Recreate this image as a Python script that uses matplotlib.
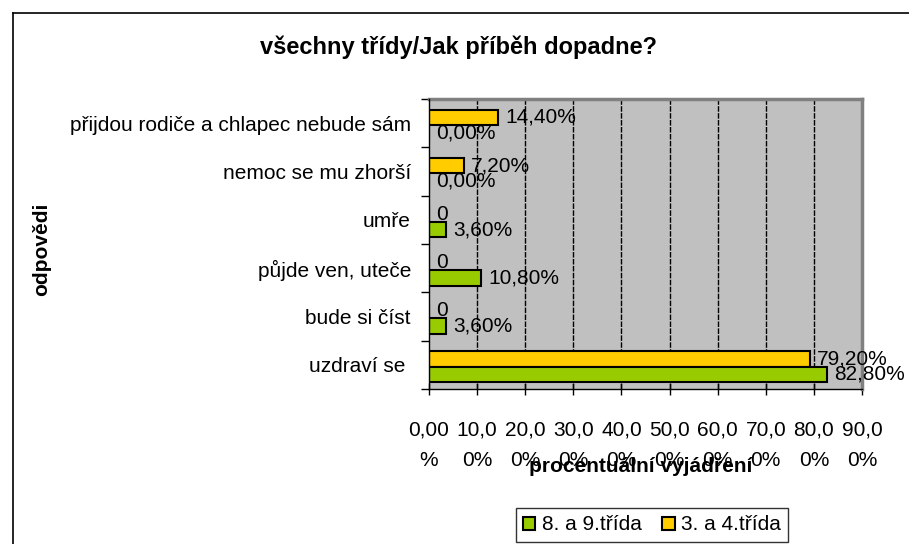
import matplotlib
matplotlib.use('Agg')
import matplotlib.pyplot as plt
from matplotlib.patches import Patch
from matplotlib.lines import Line2D

plt.rcParams['font.family'] = ['Liberation Sans', 'DejaVu Sans']

# data
categories = ['přijdou rodiče a chlapec nebude sám', 'nemoc se mu zhorší', 'umře',
              'půjde ven, uteče', 'bude si číst', 'uzdraví se ']
grade_89 = [0.0, 0.0, 3.6, 10.8, 3.6, 82.8]
grade_34 = [14.4, 7.2, 0.0, 0.0, 0.0, 79.2]
series_names = ['8. a 9.třída', '3. a 4.třída']
xticks = [0, 10, 20, 30, 40, 50, 60, 70, 80, 90]
xtick_labels = ['0,00\n%', '10,0\n0%', '20,0\n0%', '30,0\n0%', '40,0\n0%',
                '50,0\n0%', '60,0\n0%', '70,0\n0%', '80,0\n0%', '90,0\n0%']

GREEN = '#99CC00'
YELLOW = '#FFCC00'
W, H = 909, 544
FS = 15


def pct(v):
    return f'{v:.2f}%'.replace('.', ',')


fig = plt.figure(figsize=(W / 100, H / 100), dpi=100)
ax = fig.add_axes([429 / W, 1 - 389 / H, (862 - 429) / W, (389 - 99) / H])
ax.set_facecolor('#C0C0C0')

pos = list(range(len(categories)))
bh = 0.32
ax.barh([p - bh / 2 + 0.04 for p in pos], grade_34, height=bh, color=YELLOW,
        edgecolor='black', linewidth=1.5, zorder=3)
ax.barh([p + bh / 2 + 0.04 for p in pos], grade_89, height=bh, color=GREEN,
        edgecolor='black', linewidth=1.5, zorder=3)

for p, v in zip(pos, grade_34):
    ax.annotate('0' if v == 0 else pct(v), (v, p - bh / 2 + 0.04), xytext=(5, 0),
                textcoords='offset points', va='center', ha='left', fontsize=FS, zorder=4)
for p, v in zip(pos, grade_89):
    ax.annotate(pct(v), (v, p + bh / 2 + 0.04), xytext=(5, 0),
                textcoords='offset points', va='center', ha='left', fontsize=FS, zorder=4)

ax.set_xlim(0, 90)
ax.set_ylim(len(categories) - 0.5, -0.5)
ax.set_xticks(xticks)
ax.set_xticklabels(xtick_labels, fontsize=FS, linespacing=1.8)
ax.tick_params(axis='x', direction='inout', length=9, pad=18, width=1)

ax.set_yticks(pos)
ax.set_yticklabels(categories, fontsize=FS)
ax.set_yticks([p - 0.5 for p in pos] + [len(pos) - 0.5], minor=True)
ax.tick_params(axis='y', which='major', length=0, pad=13)
ax.tick_params(axis='y', which='minor', length=6, width=1)

for x in xticks[1:-1]:
    ax.axvline(x, color='black', lw=1, linestyle=(0, (4, 1)), zorder=1)

for s in ['top', 'right']:
    ax.spines[s].set_color('#808080')
    ax.spines[s].set_linewidth(2.5)
for s in ['left', 'bottom']:
    ax.spines[s].set_color('black')
    ax.spines[s].set_linewidth(1)
    ax.spines[s].set_zorder(5)

fig.text(458 / W, 1 - 47 / H, 'všechny třídy/Jak příběh dopadne?', ha='center', va='center',
         fontsize=17, fontweight='bold')
fig.text(641 / W, 1 - 467 / H, 'procentuální vyjádření', ha='center', va='center',
         fontsize=FS, fontweight='bold')
fig.text(42 / W, 1 - 249 / H, 'odpovědi', ha='center', va='center', rotation=90,
         fontsize=FS, fontweight='bold')

handles = [Patch(facecolor=GREEN, edgecolor='black', linewidth=1.5),
           Patch(facecolor=YELLOW, edgecolor='black', linewidth=1.5)]
leg = fig.legend(handles, series_names, loc='center', bbox_to_anchor=(652 / W, 1 - 525 / H),
                 ncol=2, fontsize=FS, frameon=True, fancybox=False, handlelength=0.6,
                 handleheight=0.6, handletextpad=0.3, columnspacing=1.0,
                 borderpad=0.35, borderaxespad=0)
leg.get_frame().set_edgecolor('black')
leg.get_frame().set_linewidth(1)

# outer chart frame (cut off on the right and bottom)
fig.add_artist(Line2D([12.5 / W, 12.5 / W], [0, 1 - 12.5 / H], color='black', lw=1.2))
fig.add_artist(Line2D([12.5 / W, 1], [1 - 12.5 / H, 1 - 12.5 / H], color='black', lw=1.2))

fig.savefig('out.png', dpi=100)
